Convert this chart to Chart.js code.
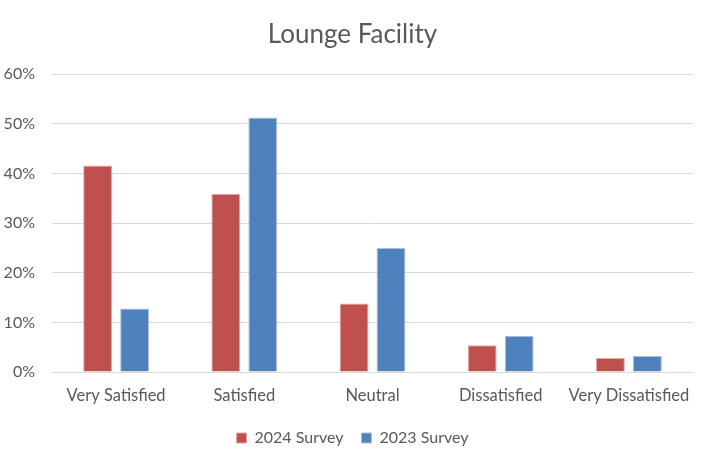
<!DOCTYPE html>
<html>
<head>
<meta charset="utf-8">
<script src="https://cdn.jsdelivr.net/npm/chart.js@4/dist/chart.umd.min.js"></script>
<style>
  html, body { margin: 0; padding: 0; background: #ffffff; }
  #wrap { width: 705px; height: 461px; }
</style>
</head>
<body>
<div id="wrap"><canvas id="chart" width="705" height="461"></canvas></div>
<script>
// Satisfaction categories and survey results (percent of respondents)
const categories = ['Very Satisfied', 'Satisfied', 'Neutral', 'Dissatisfied', 'Very Dissatisfied'];
const survey2024 = [41.6, 35.9, 13.8, 5.4, 2.8];
const survey2023 = [12.8, 51.3, 25.0, 7.3, 3.2];
const seriesNames = ['2024 Survey', '2023 Survey'];
const yTicks = [0, 10, 20, 30, 40, 50, 60];

const textColor = '#595959';
const gridColor = '#d9d9d9';
const fontFamily = 'Lato, "Open Sans", sans-serif';

new Chart(document.getElementById('chart'), {
  type: 'bar',
  data: {
    labels: categories,
    datasets: [
      {
        label: seriesNames[0],
        data: survey2024,
        backgroundColor: '#C0504D',
        borderColor: '#e3a9a7',
        borderWidth: 1,
        categoryPercentage: 0.577,
        barPercentage: 0.78
      },
      {
        label: seriesNames[1],
        data: survey2023,
        backgroundColor: '#4F81BD',
        borderColor: '#a9c1e0',
        borderWidth: 1,
        categoryPercentage: 0.577,
        barPercentage: 0.78
      }
    ]
  },
  options: {
    responsive: false,
    animation: false,
    devicePixelRatio: 1,
    layout: { padding: { left: 0, right: 0, top: 0, bottom: 5 } },
    plugins: {
      title: {
        display: true,
        text: 'Lounge Facility',
        color: textColor,
        font: { family: fontFamily, size: 26, weight: 'normal' },
        padding: { top: 19, bottom: 24 }
      },
      legend: {
        position: 'bottom',
        labels: {
          color: textColor,
          font: { family: fontFamily, size: 16 },
          boxWidth: 10,
          boxHeight: 10,
          padding: 18
        }
      },
      tooltip: { enabled: false }
    },
    scales: {
      x: {
        grid: { display: false, drawTicks: false },
        border: { display: true, color: gridColor, width: 1 },
        ticks: {
          color: textColor,
          font: { family: fontFamily, size: 16.5 },
          padding: 14,
          maxRotation: 0,
          autoSkip: false
        },
        afterFit: (s) => { s.height = 40; }
      },
      y: {
        min: 0,
        max: 60,
        afterBuildTicks: (s) => { s.ticks = yTicks.map(v => ({ value: v })); },
        grid: { color: gridColor, lineWidth: 1, drawTicks: false },
        border: { display: false },
        ticks: {
          color: textColor,
          font: { family: fontFamily, size: 16 },
          padding: 17,
          callback: (v) => v + '%'
        },
        afterFit: (s) => { s.width = 52; }
      },
      // empty right-hand margin so the title and legend stay centred on the page
      yRight: {
        position: 'right',
        min: 0,
        max: 60,
        grid: { display: false, drawTicks: false },
        border: { display: false },
        ticks: { display: false },
        afterFit: (s) => { s.width = 12; }
      }
    }
  }
});
</script>
</body>
</html>
